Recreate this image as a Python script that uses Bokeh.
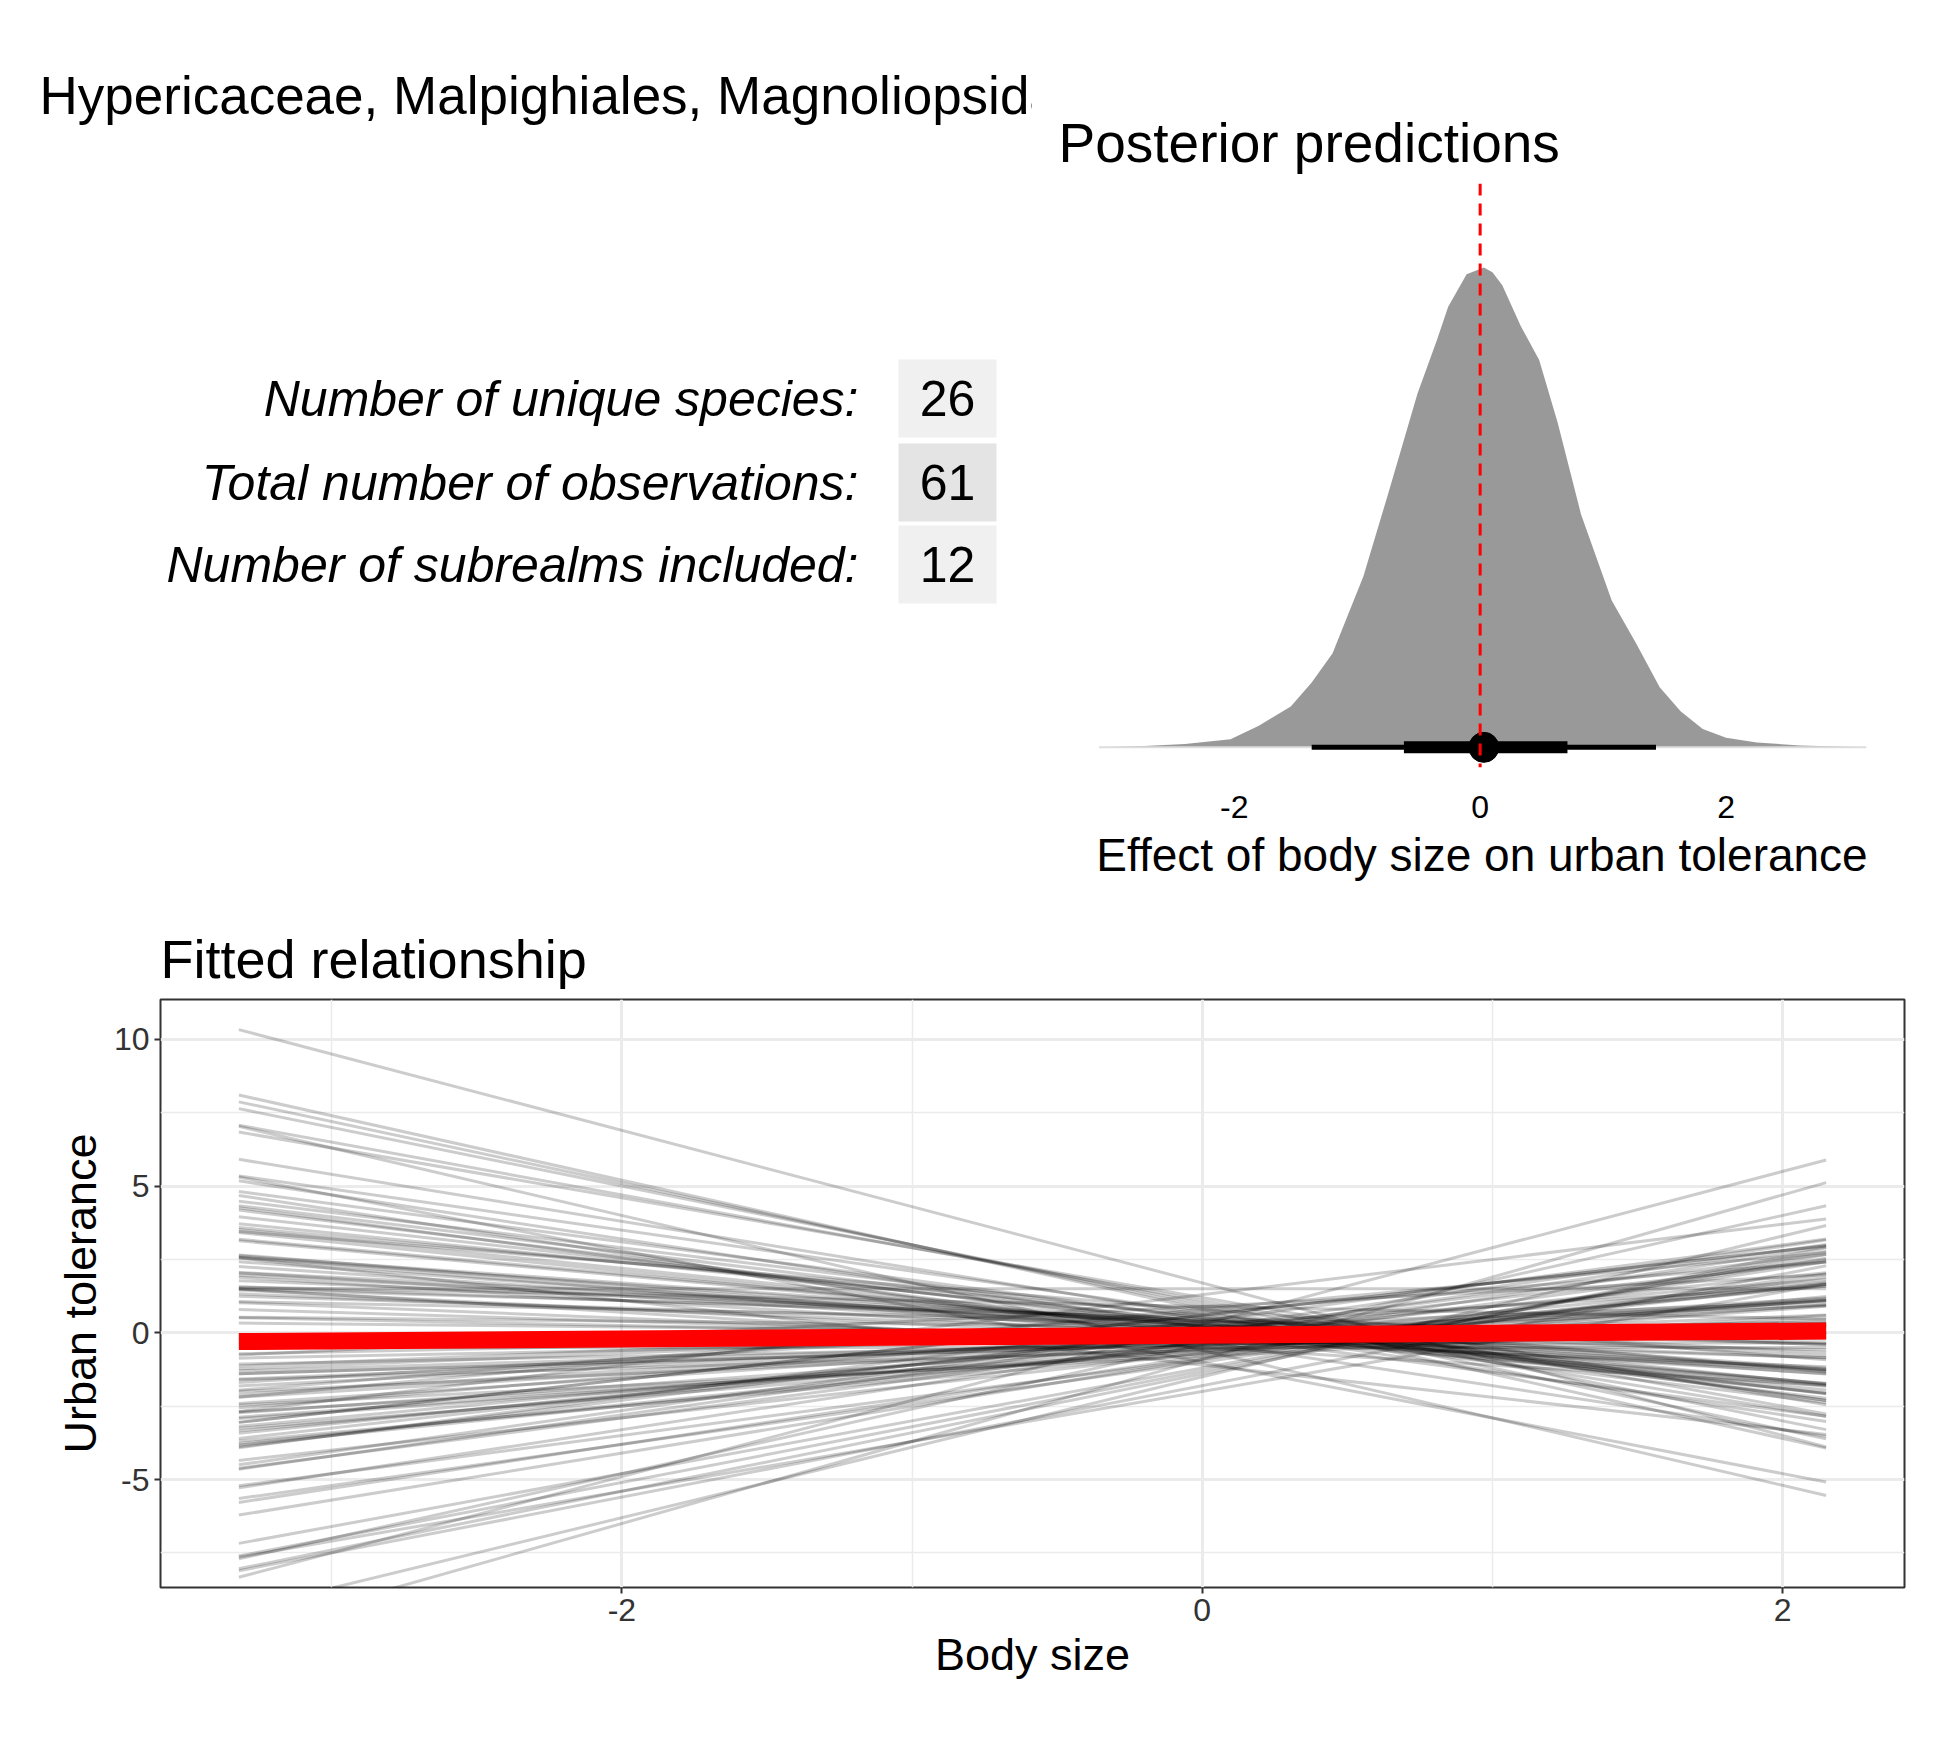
'''
Posterior summary for one family: counts table, posterior density of the slope
and the fitted relationship lines. (using Bokeh)
'''
from bokeh.plotting import figure
from bokeh.layouts import column, row
from bokeh.models import Span, FixedTicker, Range1d
from bokeh.core.properties import value
from bokeh.embed import file_html
from bokeh.resources import INLINE

FONT = "Liberation Sans"

main_title = "Hypericaceae, Malpighiales, Magnoliopsida"
stat_labels = ["Number of unique species:", "Total number of observations:",
               "Number of subrealms included:"]
stat_values = ["26", "61", "12"]

# posterior density of the slope (peak scaled to 1)
dens_x = [-3.1, -2.73, -2.4, -2.03, -1.8, -1.54, -1.37, -1.2, -0.95, -0.75, -0.51,
          -0.35, -0.26, -0.11, 0.03, 0.1, 0.18, 0.33, 0.48, 0.63, 0.82, 1.07, 1.27,
          1.46, 1.63, 1.81, 2.0, 2.25, 2.6, 3.14]
dens_y = [0.0, 0.003, 0.007, 0.017, 0.045, 0.085, 0.135, 0.196, 0.356, 0.527, 0.737,
          0.85, 0.918, 0.986, 1.0, 0.99, 0.963, 0.878, 0.807, 0.677, 0.486, 0.306,
          0.216, 0.125, 0.075, 0.038, 0.02, 0.010, 0.004, 0.0]
post_point = 0.03
post_inner = [-0.62, 0.71]
post_outer = [-1.37, 1.43]

# posterior draws of the fitted line (intercept, slope)
draw_int = [1.7, 0.9, -2.0, 0.6, -1.3, 0.2, -0.4, 0.8, -0.9, 0.1, -0.2, 0.5, -0.7, 0.3,
            -0.1, 1.1, -1.5, 0.4, -0.5, 0.0, 0.7, -0.8, 0.2, -0.3, 1.3, -1.1, 0.6, -0.6,
            0.1, -0.2, 0.9, -1.0, 0.4, -0.4, 0.0, 0.3, -0.1, -0.7, 0.5, -0.5, 1.0, -1.2,
            0.2, -0.3, 0.6, -0.9, 0.1, -0.1, 0.8, -0.6, 0.3, -0.4, 0.0, 1.2, -1.4, 0.5,
            -0.2, 0.2, -0.8, 0.7, -0.5, 0.4, -0.3, 0.1, -0.1, 0.9, -1.0, 0.6, -0.7, 0.0,
            0.3, -0.6, 1.5, -1.8, 0.2, -0.2, 0.4, -0.4, 0.8, -0.9, 0.1, -0.3,
            -0.15, 0.05, -0.35, 0.25, -0.05, -0.45, 0.15, -0.25, 0.35, -0.55, 0.45, -0.1,
            0.0, -0.3, 0.2, -0.2, 0.1, -0.4, 0.3, -0.6, 0.05, -0.15, 0.25, -0.35, 0.15,
            -0.05, -0.5, 0.4, -0.25, 0.1]
draw_slope = [-2.6, -2.1, 1.7, 1.1, 1.9, -1.5, 2.2, -0.8, 1.3, 0.4, -0.3, -1.2, 0.9,
              0.6, -0.6, -1.8, 2.4, -0.2, 1.0, 0.1, -1.4, 1.5, -0.9, 0.3, 1.2, -1.1,
              -1.6, 0.7, 0.8, -0.5, 0.5, 1.4, -1.0, 0.2, -0.1, -0.7, 0.6, 1.1, -1.3,
              0.0, -2.0, 1.8, 0.4, -0.4, -0.9, 1.6, 1.2, -0.8, 0.9, 0.3, -1.1, 0.7,
              1.4, -1.7, 2.0, -0.3, 0.2, -1.2, 0.5, 0.8, -0.6, 1.3, -1.5, 0.1, 1.0,
              -0.2, -1.9, 1.1, 0.6, -0.4, 2.6, -2.3, 0.0, 1.9, -1.0, 0.9, -0.5, 0.3,
              -2.2, 2.8, -0.7, 1.5,
              0.5, -0.6, 0.9, -0.3, 0.2, 1.0, -0.9, 0.4, -1.2, 0.7, -0.4, 0.1,
              -0.8, 1.3, -0.1, 0.6, -1.0, 0.3, -0.5, 0.8, 1.1, -0.2, -0.7, 0.0, 1.4,
              -1.3, 0.45, -0.35, 0.65, -0.65]
fit_int = -0.08
fit_slope = 0.065
x_min, x_max = -3.32, 2.15


def minus_labels(ticks):
    return {t: str(t) for t in ticks}


# --- left block: title and counts table (frame is aligned with the posterior frame)
left = figure(width=1032, height=892, x_range=(8, 1040), y_range=(775, 191),
              output_backend="svg", toolbar_location=None, min_border=0,
              min_border_top=183, min_border_bottom=125, title=main_title)
left.title.text_font = FONT
left.title.text_font_size = "53px"
left.title.text_font_style = "normal"
left.title.text_color = "black"
left.title.offset = 39
left.title.standoff = 118
left.axis.visible = False
left.grid.visible = False
left.outline_line_color = None
row_y = [406, 490, 572]
left.quad(left=[906] * 3, right=[1004] * 3, top=[y - 39 for y in row_y],
          bottom=[y + 39 for y in row_y], fill_color=["#f0f0f0", "#e4e4e4", "#f0f0f0"],
          line_color=None)
left.text([866] * 3, row_y, text=stat_labels, text_font=value(FONT), text_font_size="50px",
          text_font_style="italic", text_align="right", text_baseline="middle")
left.text([955] * 3, row_y, text=stat_values, text_font=value(FONT), text_font_size="50px",
          text_align="center", text_baseline="middle")

# --- right block: posterior density
post = figure(width=902, height=892, x_range=Range1d(-3.12, 3.15), y_range=Range1d(-0.042, 1.175),
              output_backend="svg", toolbar_location=None, min_border_left=64,
              min_border_right=67, min_border_top=183, min_border_bottom=125,
              title="Posterior predictions")
post.title.text_font = FONT
post.title.text_font_size = "55px"
post.title.text_font_style = "normal"
post.title.text_color = "black"
post.title.offset = -38
post.title.standoff = 20
post.outline_line_color = None
post.grid.visible = False
post.yaxis.visible = False
post.xaxis.axis_line_color = None
post.xaxis.major_tick_line_color = None
post.xaxis.minor_tick_line_color = None
post.xaxis.ticker = FixedTicker(ticks=[-2, 0, 2])
post.xaxis.major_label_overrides = minus_labels([-2, 0, 2])
post.xaxis.major_label_text_font = FONT
post.xaxis.major_label_text_font_size = "32px"
post.xaxis.major_label_text_color = "black"
post.xaxis.major_label_standoff = 22
post.xaxis.axis_label = "Effect of body size on urban tolerance"
post.xaxis.axis_label_text_font = FONT
post.xaxis.axis_label_text_font_size = "46px"
post.xaxis.axis_label_text_font_style = "normal"
post.xaxis.axis_label_text_color = "black"
post.xaxis.axis_label_standoff = 8
post.varea(x=dens_x, y1=[0] * len(dens_x), y2=dens_y, fill_color="#999999")
post.line(dens_x, [0] * len(dens_x), line_color="#dddddd", line_width=2)
post.segment(x0=[post_outer[0]], x1=[post_outer[1]], y0=[0], y1=[0], line_color="black", line_width=5)
post.segment(x0=[post_inner[0]], x1=[post_inner[1]], y0=[0], y1=[0], line_color="black", line_width=12)
post.scatter([post_point], [0], size=30, color="black")
post.add_layout(Span(location=0, dimension="height", line_color="red", line_width=3,
                     line_dash="12 8"))

# --- bottom: fitted relationship
fit = figure(width=1934, height=832, x_range=Range1d(-3.59, 2.42), y_range=Range1d(-8.68, 11.36),
             output_backend="svg", toolbar_location=None, min_border_left=160,
             min_border_right=30, min_border_top=107, min_border_bottom=137,
             title="Fitted relationship")
fit.title.text_font = FONT
fit.title.text_font_size = "54px"
fit.title.text_font_style = "normal"
fit.title.text_color = "black"
fit.title.standoff = 22
fit.outline_line_color = "#333333"
fit.outline_line_width = 2
fit.xaxis.ticker = FixedTicker(ticks=[-2, 0, 2], minor_ticks=[-3, -1, 1])
fit.yaxis.ticker = FixedTicker(ticks=[-5, 0, 5, 10], minor_ticks=[-7.5, -2.5, 2.5, 7.5])
fit.xaxis.major_label_overrides = minus_labels([-2, 0, 2])
fit.yaxis.major_label_overrides = minus_labels([-5, 0, 5, 10])
fit.grid.grid_line_color = "#ebebeb"
fit.grid.grid_line_width = 3
fit.grid.minor_grid_line_color = "#ebebeb"
fit.grid.minor_grid_line_width = 1.5
for ax in (fit.xaxis, fit.yaxis):
    ax.axis_line_color = None
    ax.minor_tick_line_color = None
    ax.major_tick_line_color = "#333333"
    ax.major_tick_line_width = 2
    ax.major_tick_in = 0
    ax.major_tick_out = 6
    ax.major_label_text_font = FONT
    ax.major_label_text_font_size = "32px"
    ax.major_label_text_color = "#333333"
    ax.axis_label_text_font = FONT
    ax.axis_label_text_font_size = "45px"
    ax.axis_label_text_font_style = "normal"
    ax.axis_label_text_color = "black"
fit.xaxis.axis_label = "Body size"
fit.yaxis.axis_label = "Urban tolerance"
fit.yaxis.major_label_orientation = "horizontal"

xs = [[x_min, x_max] for _ in draw_int]
ys = [[a + b * x_min, a + b * x_max] for a, b in zip(draw_int, draw_slope)]
fit.multi_line(xs, ys, line_color="black", line_alpha=0.2, line_width=3)
fit.line([x_min, x_max], [fit_int + fit_slope * x_min, fit_int + fit_slope * x_max],
         line_color="red", line_width=17)

layout = column(row(left, post), fit)
open("out.html", "w").write(file_html(layout, INLINE))
